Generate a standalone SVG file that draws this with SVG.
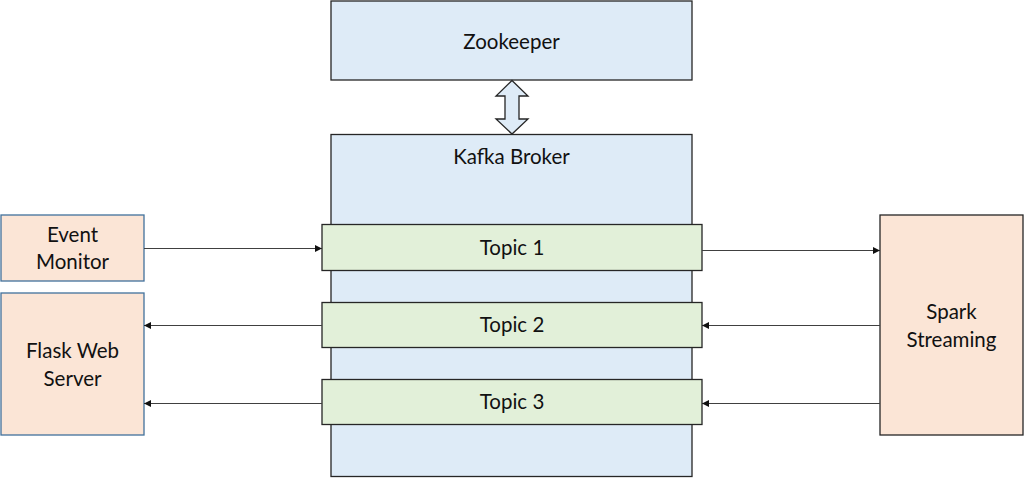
<svg xmlns="http://www.w3.org/2000/svg" width="1024" height="479" viewBox="0 0 1024 479">
<style>
.t{font-family:Lato,"Liberation Sans",sans-serif;font-size:20.5px;fill:#111;text-anchor:middle;dominant-baseline:central}
.blue{fill:#DEEBF7;stroke:#262626;stroke-width:1.3}
.green{fill:#E2F0D9;stroke:#262626;stroke-width:1.3}
.org{fill:#FBE5D6;stroke:#41719C;stroke-width:1.3}
.org2{fill:#FBE5D6;stroke:#262626;stroke-width:1.3}
.c{stroke:#404040;stroke-width:1;fill:none;marker-end:url(#ah)}
</style>
<defs>
<marker id="ah" viewBox="0 0 10 10" refX="10" refY="5" markerWidth="8" markerHeight="7" markerUnits="userSpaceOnUse" orient="auto">
<path d="M0,0 L10,5 L0,10 z" fill="#111"/>
</marker>
</defs>
<rect width="1024" height="479" fill="#fff"/>
<g id="zookeeper"><rect class="blue" x="331" y="1" width="361" height="79"/><text class="t" x="511.5" y="41">Zookeeper</text></g>
<g id="kafka"><rect class="blue" x="331" y="134.5" width="361" height="342"/><text class="t" x="511.5" y="156">Kafka Broker</text></g>
<g id="link"><path class="blue" d="M512,80.5 L528,96 L519,96 L519,119 L528,119 L512,134 L496,119 L505,119 L505,96 L496,96 z"/></g>
<g id="topic1"><rect class="green" x="322" y="224.5" width="380" height="46"/><text class="t" x="512" y="247">Topic 1</text></g>
<g id="topic2"><rect class="green" x="322" y="302.5" width="380" height="45"/><text class="t" x="512" y="324">Topic 2</text></g>
<g id="topic3"><rect class="green" x="322" y="379.5" width="380" height="45"/><text class="t" x="512" y="401">Topic 3</text></g>
<g id="event"><rect class="org" x="1" y="215" width="143" height="66"/><text class="t" x="72.5" y="234">Event</text><text class="t" x="72.5" y="261">Monitor</text></g>
<g id="flask"><rect class="org" x="1" y="293" width="143" height="142"/><text class="t" x="72.5" y="350">Flask Web</text><text class="t" x="72.5" y="378">Server</text></g>
<g id="spark"><rect class="org2" x="880" y="215" width="143" height="220"/><text class="t" x="951.5" y="311">Spark</text><text class="t" x="951.5" y="339">Streaming</text></g>
<g id="connectors">
<line class="c" x1="144" y1="248.5" x2="322" y2="248.5"/>
<line class="c" x1="702" y1="250.5" x2="880" y2="250.5"/>
<line class="c" x1="880" y1="325.5" x2="702" y2="325.5"/>
<line class="c" x1="322" y1="325.5" x2="144" y2="325.5"/>
<line class="c" x1="880" y1="403.5" x2="702" y2="403.5"/>
<line class="c" x1="322" y1="403.5" x2="144" y2="403.5"/>
</g>
</svg>
